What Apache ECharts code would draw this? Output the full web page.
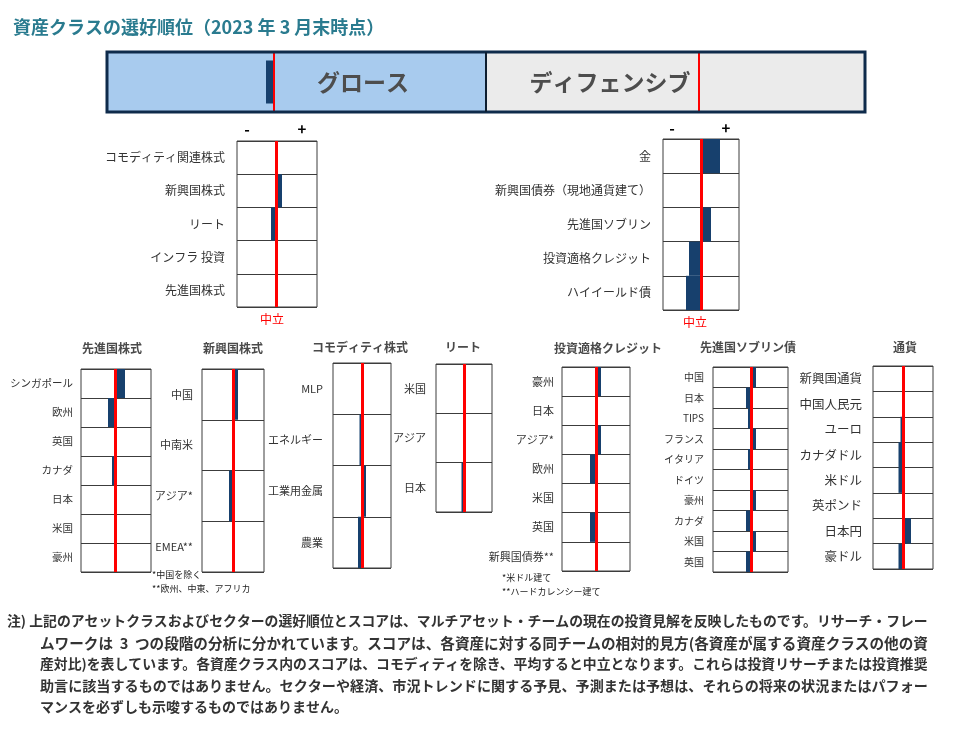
<!DOCTYPE html>
<html><head><meta charset="utf-8">
<script src="https://cdn.jsdelivr.net/npm/echarts@6/dist/echarts.min.js"></script>
<style>html,body{margin:0;padding:0;background:#fff}#c{width:955px;height:735px}</style>
</head><body><div id="c"></div><script>
// ---------- data ----------
const bannerCats = ['グロース', 'ディフェンシブ'];
const bannerScores = [-8, 0];

const growthCats = ['コモディティ関連株式', '新興国株式', 'リート', 'インフラ 投資', '先進国株式'];
const growthScores = [0, 6, -5, 0, 0];

const defensiveCats = ['金', '新興国債券（現地通貨建て）', '先進国ソブリン', '投資適格クレジット', 'ハイイールド債'];
const defensiveScores = [19, 0, 10, -12, -15];

const dmEqCats = ['シンガポール', '欧州', '英国', 'カナダ', '日本', '米国', '豪州'];
const dmEqScores = [10, -7, 0, -3, 0, 0, 0];

const emEqCats = ['中国', '中南米', 'アジア*', 'EMEA**'];
const emEqScores = [5, 0, -4, 0];

const commEqCats = ['MLP', 'エネルギー', '工業用金属', '農業'];
const commEqScores = [2, -2.5, 4, -4];

const reitCats = ['米国', 'アジア', '日本'];
const reitScores = [0, 2, -2.5];

const igCats = ['豪州', '日本', 'アジア*', '欧州', '米国', '英国', '新興国債券**'];
const igScores = [5, 0, 5, -6, 0, -6, 0];

const sovCats = ['中国', '日本', 'TIPS', 'フランス', 'イタリア', 'ドイツ', '豪州', 'カナダ', '米国', '英国'];
const sovScores = [5, -5, -3, 5, -3, 0, 5, -5, 5, -5];

const fxCats = ['新興国通貨', '中国人民元', 'ユーロ', 'カナダドル', '米ドル', '英ポンド', '日本円', '豪ドル'];
const fxScores = [-1, -1, -2.5, -4.5, -4.5, 0, 8, -4.5];

const titleText = '資産クラスの選好順位（2023 年 3 月末時点）';
const noteLines = [
  '注) 上記のアセットクラスおよびセクターの選好順位とスコアは、マルチアセット・チームの現在の投資見解を反映したものです。リサーチ・フレー',
  'ムワークは  3  つの段階の分析に分かれています。スコアは、各資産に対する同チームの相対的見方(各資産が属する資産クラスの他の資',
  '産対比)を表しています。各資産クラス内のスコアは、コモディティを除き、平均すると中立となります。これらは投資リサーチまたは投資推奨',
  '助言に該当するものではありません。セクターや経済、市況トレンドに関する予見、予測または予想は、それらの将来の状況またはパフォー',
  'マンスを必ずしも示唆するものではありません。'
];

// ---------- layout ----------
const FONT = '"Noto Sans CJK JP", "Noto Sans", sans-serif';
const NAVY = '#17406d';
const RED = '#ff0000';

const panels = [
  {cats: growthCats, vals: growthScores, left: 237, top: 141, width: 80, height: 166, min: -39, max: 41, fs: 12, margin: 12},
  {cats: defensiveCats, vals: defensiveScores, left: 663, top: 139, width: 76, height: 171, min: -38, max: 38, fs: 12, margin: 12},
  {cats: dmEqCats, vals: dmEqScores, left: 81, top: 369, width: 70, height: 203, min: -34, max: 36, fs: 10.5, margin: 8, title: '先進国株式', tx: 112, ty: 348},
  {cats: emEqCats, vals: emEqScores, left: 202, top: 369, width: 62, height: 203, min: -31, max: 31, fs: 11, margin: 9, title: '新興国株式', tx: 233, ty: 348},
  {cats: commEqCats, vals: commEqScores, left: 333, top: 363, width: 58, height: 205, min: -29, max: 29, fs: 11, margin: 10, title: 'コモディティ株式', tx: 360, ty: 347},
  {cats: reitCats, vals: reitScores, left: 436, top: 364, width: 56, height: 148, min: -28, max: 28, fs: 11, margin: 10, title: 'リート', tx: 463, ty: 347},
  {cats: igCats, vals: igScores, left: 562, top: 367, width: 68, height: 204, min: -34, max: 34, fs: 11, margin: 8, title: '投資適格クレジット', tx: 608, ty: 348},
  {cats: sovCats, vals: sovScores, left: 713, top: 367, width: 75, height: 205, min: -38, max: 37, fs: 10, margin: 9, title: '先進国ソブリン債', tx: 748, ty: 347},
  {cats: fxCats, vals: fxScores, left: 873, top: 366, width: 60, height: 203, min: -30, max: 30, fs: 12.5, margin: 11, title: '通貨', tx: 905, ty: 347}
];

const grids = [], xAxes = [], yAxes = [], series = [], graphics = [];

function markLine(w) {
  return {symbol: 'none', silent: true, label: {show: false}, z: 10,
    lineStyle: {color: RED, width: w, type: 'solid', opacity: 1},
    emphasis: {disabled: true}, data: [{xAxis: 0}]};
}

// banner (two grids)
const bannerBoxes = [
  {left: 107, width: 379, min: -167, max: 212, bg: '#a8cbee'},
  {left: 486, width: 379, min: -213, max: 166, bg: '#ebebeb'}
];
bannerBoxes.forEach((b, i) => {
  const gi = grids.length;
  grids.push({left: b.left, top: 52, width: b.width, height: 60, show: true, backgroundColor: b.bg, borderWidth: 0});
  xAxes.push({type: 'value', gridIndex: gi, min: b.min, max: b.max, show: false});
  yAxes.push({type: 'category', gridIndex: gi, data: [bannerCats[i]], show: false});
  series.push({type: 'bar', xAxisIndex: gi, yAxisIndex: gi, data: [bannerScores[i]], barWidth: 43,
    itemStyle: {color: NAVY}, silent: true, markLine: markLine(2)});
});

panels.forEach(p => {
  const gi = grids.length;
  grids.push({left: p.left, top: p.top, width: p.width, height: p.height, show: true,
    backgroundColor: '#fff', borderColor: '#3c3c3c', borderWidth: 1});
  xAxes.push({type: 'value', gridIndex: gi, min: p.min, max: p.max, show: false});
  yAxes.push({type: 'category', gridIndex: gi, data: p.cats, inverse: true,
    axisLine: {show: false}, axisTick: {show: false},
    axisLabel: {fontSize: p.fs, color: '#333', margin: p.margin, fontFamily: FONT, interval: 0},
    splitLine: {show: true, interval: 0, lineStyle: {color: '#3c3c3c', width: 1}}});
  series.push({type: 'bar', xAxisIndex: gi, yAxisIndex: gi, data: p.vals, barWidth: '100%',
    itemStyle: {color: NAVY}, silent: true, markLine: markLine(3)});
  if (p.title) {
    graphics.push({type: 'text', style: {text: p.title, x: p.tx, y: p.ty, fill: '#4a4a4a',
      font: 'bold 12px ' + FONT, textAlign: 'center', textVerticalAlign: 'middle', align: 'center', verticalAlign: 'middle'}});
  }
});

function txt(t, x, y, font, fill, align) {
  graphics.push({type: 'text', z: 20, style: {text: t, x: x, y: y, font: font, fill: fill,
    textAlign: align || 'left', align: align || 'left', textVerticalAlign: 'middle', verticalAlign: 'middle'}});
}

// title
txt(titleText, 13, 27, 'bold 18px ' + FONT, '#2a7b8f');
// banner outline and texts
graphics.push({type: 'rect', z: 20, shape: {x: 107, y: 52, width: 758, height: 60},
  style: {fill: 'none', stroke: '#0e2b4b', lineWidth: 3}});
graphics.push({type: 'line', z: 20, shape: {x1: 486, y1: 52, x2: 486, y2: 112},
  style: {stroke: '#0e1e30', lineWidth: 2}});
txt(bannerCats[0], 363, 82, 'bold 23px ' + FONT, '#4d4d4d', 'center');
txt(bannerCats[1], 610, 82, 'bold 23px ' + FONT, '#4d4d4d', 'center');
// +/- and neutral labels
txt('-', 247, 129, 'bold 15px ' + FONT, '#000', 'center');
txt('+', 302, 129, 'bold 15px ' + FONT, '#000', 'center');
txt('-', 672, 128, 'bold 15px ' + FONT, '#000', 'center');
txt('+', 726, 128, 'bold 15px ' + FONT, '#000', 'center');
txt('中立', 272, 319, '12px ' + FONT, RED, 'center');
txt('中立', 695, 322, '12px ' + FONT, RED, 'center');
// footnotes
txt('*中国を除く', 152, 575, '9px ' + FONT, '#222');
txt('**欧州、中東、アフリカ', 152, 589, '9px ' + FONT, '#222');
txt('*米ドル建て', 502, 578, '9px ' + FONT, '#222');
txt('**ハードカレンシー建て', 502, 592, '9px ' + FONT, '#222');
// note (lines 1-4 fitted to the right margin)
const measureCtx = document.createElement('canvas').getContext('2d');
function fitSize(text, target, base) {
  measureCtx.font = 'bold ' + base + 'px ' + FONT;
  const w = measureCtx.measureText(text).width;
  const s = base * target / w;
  return Math.max(base - 1, Math.min(base + 1, s));
}
const noteY = [621, 643, 664, 686, 707];
noteLines.forEach((l, i) => {
  const x = i === 0 ? 7 : 40;
  const size = i < 4 ? fitSize(l, 928 - x, 14) : 14;
  txt(l, x, noteY[i], 'bold ' + size.toFixed(2) + 'px ' + FONT, '#333');
});

const chart = echarts.init(document.getElementById('c'), null, {renderer: 'canvas'});
chart.setOption({
  animation: false,
  backgroundColor: '#fff',
  textStyle: {fontFamily: FONT},
  grid: grids, xAxis: xAxes, yAxis: yAxes, series: series, graphic: graphics
});
</script></body></html>
